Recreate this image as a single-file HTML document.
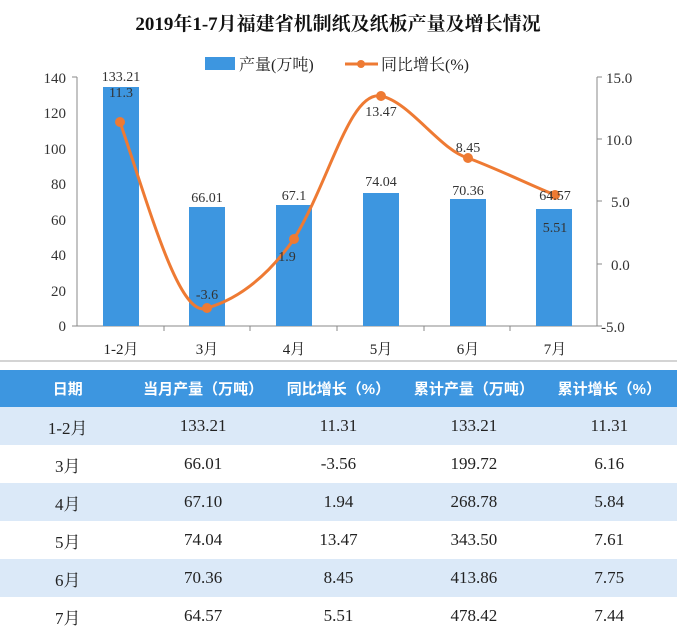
<!DOCTYPE html>
<html><head><meta charset="utf-8"><style>
body{margin:0;width:677px;height:642px;background:#fff;font-family:"Liberation Serif","Noto Serif CJK SC",serif;overflow:hidden;position:relative}
table{position:absolute;left:0;top:370px;width:677px;border-collapse:collapse;table-layout:fixed}
td{height:38px;text-align:center;font-size:17px;color:#222;padding:0}
tr.h td{background:#3d96e0;color:#fff;font-weight:bold;font-size:15px;font-family:"Liberation Sans","Noto Sans CJK SC",sans-serif;height:37px}
tr.s td{background:#dbe9f8}
</style></head><body>
<svg width="677" height="370" style="position:absolute;left:0;top:0" font-family="Liberation Serif, Noto Serif CJK SC, serif">
<text x="338" y="30" text-anchor="middle" font-size="19" font-weight="bold" fill="#111">2019年1-7月福建省机制纸及纸板产量及增长情况</text>
<rect x="205" y="57" width="30" height="13" fill="#3d96e0"/>
<text x="239" y="70" font-size="16" fill="#222">产量(万吨)</text>
<line x1="345" y1="64" x2="378" y2="64" stroke="#ee7a33" stroke-width="3"/><circle cx="361" cy="64" r="4" fill="#ee7a33"/>
<text x="381" y="70" font-size="16" fill="#222">同比增长(%)</text>
<g stroke="#888" stroke-width="1" fill="none">
<line x1="77" y1="77" x2="77" y2="326"/><line x1="77" y1="326" x2="597" y2="326"/><line x1="597" y1="77" x2="597" y2="326"/>
<line x1="72" y1="77" x2="77" y2="77"/><line x1="72" y1="326" x2="77" y2="326"/>
<line x1="597" y1="77" x2="602" y2="77"/><line x1="597" y1="139" x2="602" y2="139"/><line x1="597" y1="201" x2="602" y2="201"/><line x1="597" y1="264" x2="602" y2="264"/><line x1="597" y1="326" x2="602" y2="326"/>
<line x1="164" y1="326" x2="164" y2="331"/><line x1="250" y1="326" x2="250" y2="331"/><line x1="337" y1="326" x2="337" y2="331"/><line x1="424" y1="326" x2="424" y2="331"/><line x1="510" y1="326" x2="510" y2="331"/>
<line x1="0" y1="361" x2="677" y2="361" stroke="#aaa"/>
</g>
<g font-size="15" fill="#333" text-anchor="end">
<text x="66" y="83">140</text><text x="66" y="118">120</text><text x="66" y="154">100</text><text x="66" y="189">80</text><text x="66" y="225">60</text><text x="66" y="260">40</text><text x="66" y="296">20</text><text x="66" y="331">0</text>
</g>
<g font-size="15" fill="#333">
<text x="606" y="83">15.0</text><text x="606" y="145">10.0</text><text x="611" y="207">5.0</text><text x="611" y="270">0.0</text><text x="601" y="332">-5.0</text>
</g>
<g font-size="15" fill="#222" text-anchor="middle">
<text x="121" y="354">1-2月</text><text x="207" y="354">3月</text><text x="294" y="354">4月</text><text x="381" y="354">5月</text><text x="468" y="354">6月</text><text x="555" y="354">7月</text>
</g>
<g fill="#3d96e0">
<rect x="103" y="87" width="36" height="239"/><rect x="189" y="207" width="36" height="119"/><rect x="276" y="205" width="36" height="121"/><rect x="363" y="193" width="36" height="133"/><rect x="450" y="199" width="36" height="127"/><rect x="536" y="209" width="36" height="117"/>
</g>
<path d="M120,122 C150,210 180,320 207,308 C235,300 265,280 294,239 C330,180 350,90 381,96 C410,102 440,150 468,158 C500,170 530,185 555,195" fill="none" stroke="#ee7a33" stroke-width="3"/>
<g fill="#ee7a33"><circle cx="120" cy="122" r="5"/><circle cx="207" cy="308" r="5"/><circle cx="294" cy="239" r="5"/><circle cx="381" cy="96" r="5"/><circle cx="468" cy="158" r="5"/><circle cx="555" cy="195" r="5"/></g>
<g font-size="14" fill="#333" text-anchor="middle">
<text x="121" y="81">133.21</text><text x="207" y="202">66.01</text><text x="294" y="200">67.1</text><text x="381" y="186">74.04</text><text x="468" y="195">70.36</text><text x="555" y="200">64.57</text>
<text x="121" y="97">11.3</text><text x="207" y="299">-3.6</text><text x="287" y="261">1.9</text><text x="381" y="116">13.47</text><text x="468" y="152">8.45</text><text x="555" y="232">5.51</text>
</g>
</svg>
<table>
<tr class="h"><td>日期</td><td>当月产量（万吨）</td><td>同比增长（%）</td><td>累计产量（万吨）</td><td>累计增长（%）</td></tr>
<tr class="s"><td>1-2月</td><td>133.21</td><td>11.31</td><td>133.21</td><td>11.31</td></tr>
<tr><td>3月</td><td>66.01</td><td>-3.56</td><td>199.72</td><td>6.16</td></tr>
<tr class="s"><td>4月</td><td>67.10</td><td>1.94</td><td>268.78</td><td>5.84</td></tr>
<tr><td>5月</td><td>74.04</td><td>13.47</td><td>343.50</td><td>7.61</td></tr>
<tr class="s"><td>6月</td><td>70.36</td><td>8.45</td><td>413.86</td><td>7.75</td></tr>
<tr><td>7月</td><td>64.57</td><td>5.51</td><td>478.42</td><td>7.44</td></tr>
</table>
</body></html>
